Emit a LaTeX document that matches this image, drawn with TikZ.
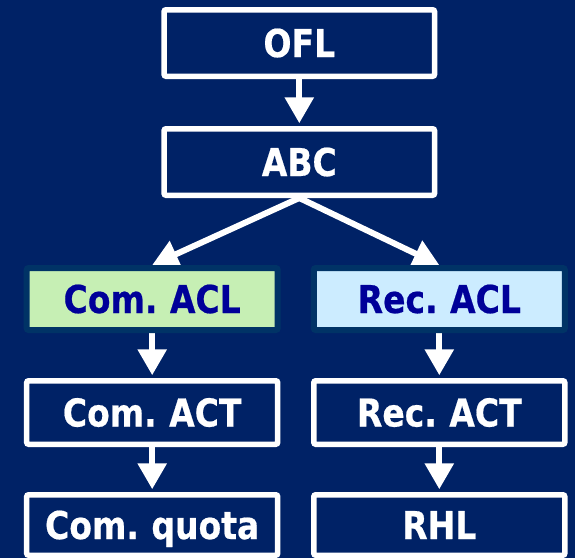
\documentclass[tikz,border=0pt]{standalone}
\usepackage{fontspec}
\setmainfont{DejaVu Sans}[FakeStretch=0.86,WordSpace=0.75,FakeBold=0.5]
\usetikzlibrary{arrows.meta}
\definecolor{bgblue}{RGB}{0,34,102}
\definecolor{aclborder}{RGB}{0,51,102}
\definecolor{comgreen}{RGB}{198,239,180}
\definecolor{recblue}{RGB}{204,236,255}
\definecolor{acltext}{RGB}{0,0,153}
\pgfdeclarelayer{bg}
\pgfsetlayers{bg,main}
\begin{document}
\begin{tikzpicture}[x=1pt,y=-1pt,
  font=\fontsize{38.4}{40}\selectfont\bfseries,
  basebox/.style={line width=5.5pt, rounded corners=2pt, inner sep=0pt,
    text height=28pt, text depth=0pt, minimum width=251pt},
  wbox/.style={basebox, draw=white, fill=bgblue, text=white},
  aclbox/.style={basebox, line width=6pt, draw=aclborder, text=acltext, minimum height=62pt},
  arr/.style={draw=white, line width=6pt, -{Triangle[width=28pt,length=26pt]}}]
\begin{pgfonlayer}{bg}
\fill[bgblue] (0,0) rectangle (575,558);
\end{pgfonlayer}
\useasboundingbox (0,0) rectangle (575,558);
\node[wbox, minimum width=270.5pt, minimum height=66.5pt] (ofl) at (299.3,43) {OFL};
\node[wbox, minimum width=270.5pt, minimum height=66.5pt] (abc) at (299.3,162) {ABC};
\node[aclbox, fill=comgreen] (comacl) at (152.2,299) {Com. ACL};
\node[aclbox, fill=recblue] (recacl) at (439.3,299) {Rec. ACL};
\node[wbox, minimum height=63.5pt] (comact) at (152.2,412.5) {Com. ACT};
\node[wbox, minimum height=63.5pt] (recact) at (439.3,412.5) {Rec. ACT};
\node[wbox, minimum height=60.5pt] (comquota) at (152.2,525) {Com. quota};
\node[wbox, minimum height=60.5pt] (rhl) at (439.3,525) {RHL};
\begin{pgfonlayer}{bg}
\draw[arr, shorten >=2.75pt] (ofl.south) -- (abc.north);
\draw[arr] (abc.south) -- (comacl.north);
\draw[arr] (abc.south) -- (recacl.north);
\draw[arr, shorten >=2.75pt] (comacl.south) -- (comact.north);
\draw[arr, shorten >=2.75pt] (recacl.south) -- (recact.north);
\draw[arr, shorten >=2.75pt] (comact.south) -- (comquota.north);
\draw[arr, shorten >=2.75pt] (recact.south) -- (rhl.north);
\end{pgfonlayer}
\end{tikzpicture}
\end{document}
